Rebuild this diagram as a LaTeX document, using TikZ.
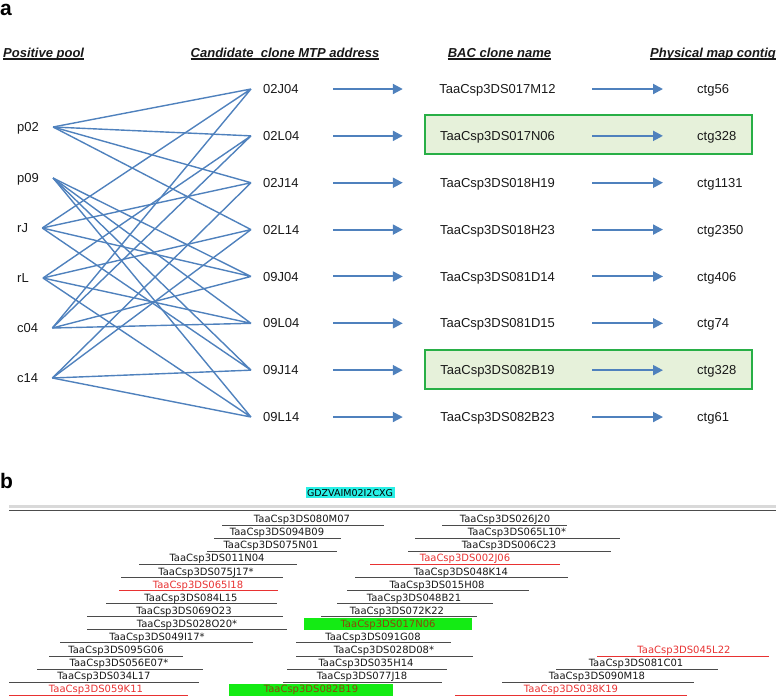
\documentclass[tikz,border=0pt]{standalone}
\usepackage{fontspec}
\setmainfont{Liberation Sans}
\newfontfamily\dvsans{DejaVu Sans}
\usetikzlibrary{arrows.meta}

\definecolor{linkblue}{RGB}{79,129,189}
\definecolor{boxgreen}{RGB}{40,175,70}
\definecolor{boxfill}{RGB}{230,241,218}
\definecolor{txtdark}{RGB}{25,25,25}
\definecolor{clnred}{RGB}{232,50,50}
\definecolor{clngray}{RGB}{75,75,75}
\definecolor{hitgreen}{RGB}{20,235,20}
\definecolor{hittext}{RGB}{140,70,10}
\definecolor{tagcyan}{RGB}{40,240,230}

\begin{document}
\begin{tikzpicture}[x=1pt,y=-1pt,
  lbl/.style={font=\fontsize{13}{15}\selectfont, text=txtdark, text height=9.3pt, text depth=0pt},
  head/.style={font=\fontsize{13}{15}\selectfont\bfseries\itshape, inner sep=0pt, text=txtdark},
  pool/.style={lbl, anchor=west, inner xsep=14pt, inner ysep=0pt},
  mtp/.style={lbl, anchor=west, inner xsep=12pt, inner ysep=0pt, text width=58pt, align=left},
  bac/.style={lbl, minimum width=189pt, inner xsep=0pt, inner ysep=0pt},
  ctg/.style={lbl, anchor=west, inner xsep=34pt, inner ysep=0pt},
  link/.style={draw=linkblue, line width=1.4pt},
  pipe/.style={draw=linkblue, line width=2pt, -{Triangle[length=10pt,width=10pt]}},
  hibox/.style={draw=boxgreen, line width=2.4pt, fill=boxfill},
  clone/.style={font=\dvsans\fontsize{10}{11}\selectfont, inner sep=0pt, text height=7.3pt, text depth=0pt},
  lk/.style={draw=clngray}, tk/.style={text=txtdark},
  lr/.style={draw=clnred}, tr/.style={text=clnred}]
\useasboundingbox (0,0) rectangle (778,697);

% panel a
\draw[hibox] (425,115) rectangle (752,154);
\draw[hibox] (425,350) rectangle (752,389);

\node[font=\fontsize{21}{24}\selectfont\bfseries, anchor=base west, inner sep=0pt] (panA) at (0,15) {a};

\node[head, anchor=base west] (hPool) at (3,57.5) {Positive pool};
\node[head, anchor=base] (hMtp) at (285,57.5) {Candidate\ \ clone MTP address};
\node[head, anchor=base] (hBac) at (499.5,57.5) {BAC clone name};
\node[head, anchor=base] (hCtg) at (713,57.5) {Physical map contig};
\foreach \h in {hPool,hMtp,hBac,hCtg}
  \draw[line width=1.2pt, txtdark] ([yshift=-1.5pt]\h.base west) -- ([yshift=-1.5pt]\h.base east);

\node[pool] (p02) at (3,127) {p02};
\node[pool] (p09) at (3,178) {p09};
\node[pool] (rJ) at (3,228) {rJ};
\node[pool] (rL) at (3,278) {rL};
\node[pool] (c04) at (3,328) {c04};
\node[pool] (c14) at (3,378) {c14};

\foreach \mtp/\bac/\ctg [count=\i from 0] in {02J04/TaaCsp3DS017M12/ctg56,
    02L04/TaaCsp3DS017N06/ctg328, 02J14/TaaCsp3DS018H19/ctg1131,
    02L14/TaaCsp3DS018H23/ctg2350, 09J04/TaaCsp3DS081D14/ctg406,
    09L04/TaaCsp3DS081D15/ctg74, 09J14/TaaCsp3DS082B19/ctg328,
    09L14/TaaCsp3DS082B23/ctg61}{
  \pgfmathsetmacro\yy{89+46.86*\i}
  \node[mtp] (m\mtp) at (251,\yy) {\mtp};
  \node[bac] (b\mtp) at (497.5,\yy) {\bac};
  \node[ctg] (g\mtp) at (663,\yy) {\ctg};
  \draw[pipe] (m\mtp.east) -- (b\mtp.west);
  \draw[pipe] (b\mtp.east) -- (g\mtp.west);
}

\foreach \pl/\rw/\cl in {02/J/04,02/L/04,02/J/14,02/L/14,09/J/04,09/L/04,09/J/14,09/L/14}
  \draw[link] (p\pl.east) -- (m\pl\rw\cl.west)
              (r\rw.east) -- (m\pl\rw\cl.west)
              (c\cl.east) -- (m\pl\rw\cl.west);

% panel b
\node[font=\fontsize{21}{24}\selectfont\bfseries, anchor=base west, inner sep=0pt] (panB) at (0,488) {b};

\node[clone, font=\dvsans\fontsize{9.5}{11}\selectfont, fill=tagcyan, inner xsep=1.5pt, inner ysep=2pt] (tag) at (350,492.5) {GDZVAIM02I2CXG};
\draw[gray!30, line width=3pt] (9,506.5) -- (776,506.5);
\draw[gray!60!black, line width=1.3pt] (9,510.8) -- (776,510.8);

\foreach \r/\xa/\xb/\xc/\nm/\cl [count=\n] in {
    0/222/384/302/TaaCsp3DS080M07/k, 1/214/341/277/TaaCsp3DS094B09/k,
    2/207/337/271/TaaCsp3DS075N01/k, 3/139/297/217/TaaCsp3DS011N04/k,
    4/121/283/206/TaaCsp3DS075J17*/k, 5/119/278/198/TaaCsp3DS065I18/r,
    6/106/277/191/TaaCsp3DS084L15/k, 7/87/283/184/TaaCsp3DS069O23/k,
    8/87/287/187/TaaCsp3DS028O20*/k, 9/60/253/157/TaaCsp3DS049I17*/k,
    10/49/183/116/TaaCsp3DS095G06/k, 11/37/203/119/TaaCsp3DS056E07*/k,
    12/9/199/104/TaaCsp3DS034L17/k, 13/9/188/96/TaaCsp3DS059K11/r,
    0/442/567/505/TaaCsp3DS026J20/k, 1/415/620/517/TaaCsp3DS065L10*/k,
    2/408/611/509/TaaCsp3DS006C23/k, 3/370/560/465/TaaCsp3DS002J06/r,
    4/355/568/461/TaaCsp3DS048K14/k, 5/347/529/437/TaaCsp3DS015H08/k,
    6/337/493/414/TaaCsp3DS048B21/k, 7/321/477/397/TaaCsp3DS072K22/k,
    9/296/451/373/TaaCsp3DS091G08/k, 10/296/473/384/TaaCsp3DS028D08*/k,
    11/287/447/366/TaaCsp3DS035H14/k, 12/283/442/362/TaaCsp3DS077J18/k,
    10/597/769/684/TaaCsp3DS045L22/r, 11/556/718/636/TaaCsp3DS081C01/k,
    12/502/694/597/TaaCsp3DS090M18/k, 13/455/687/571/TaaCsp3DS038K19/r}{
  \pgfmathsetmacro\yy{519+13.1*\r}
  \draw[l\cl, line width=0.9pt] (\xa,\yy+6) -- (\xb,\yy+6);
  \node[clone, t\cl] (k\n) at (\xc,\yy) {\nm};
}

\foreach \r/\xa/\xb/\xc/\nm [count=\n] in {8/304/472/388/TaaCsp3DS017N06,
    13/229/393/311/TaaCsp3DS082B19}{
  \pgfmathsetmacro\yy{519+13.1*\r}
  \fill[hitgreen] (\xa,\yy-5.5) rectangle (\xb,\yy+6.5);
  \node[clone, text=hittext] (hit\n) at (\xc,\yy) {\nm};
}
\end{tikzpicture}
\end{document}
